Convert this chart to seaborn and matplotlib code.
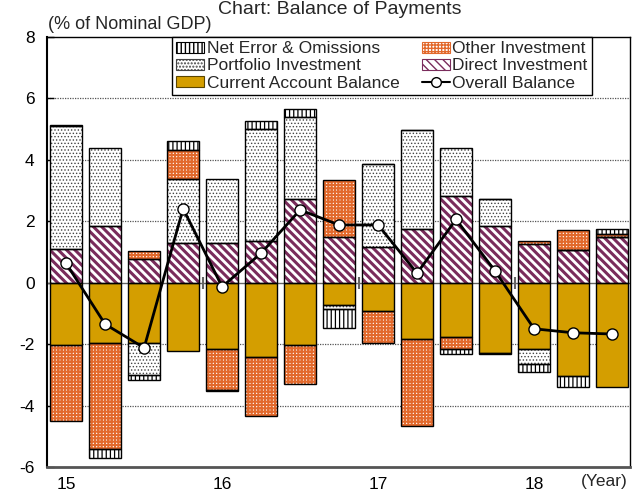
import numpy as np
import pandas as pd
import matplotlib
matplotlib.use("Agg")
import matplotlib.pyplot as plt
import seaborn as sns
from matplotlib.patches import Patch
from matplotlib.lines import Line2D

# Balance of payments, % of nominal GDP, quarterly 2015Q1 - 2018Q3
quarters = ["15Q1", "15Q2", "15Q3", "15Q4", "16Q1", "16Q2", "16Q3", "16Q4",
            "17Q1", "17Q2", "17Q3", "17Q4", "18Q1", "18Q2", "18Q3"]
year_labels = ["15", "16", "17", "18"]

current_account = [-2.03, -1.97, -1.97, -2.21, -2.16, -2.43, -2.04, -0.73,
                   -0.91, -1.83, -1.76, -2.30, -2.17, -3.04, -3.41]
direct_inv = [1.09, 1.85, 0.76, 1.30, 1.30, 1.37, 2.72, 1.48,
              1.15, 1.74, 2.82, 1.85, 1.26, 1.06, 1.50]
portfolio_inv = [4.00, 2.53, -1.03, 2.07, 2.07, 3.62, 2.69, -0.13,
                 2.70, 3.23, 1.56, 0.87, -0.49, 0.0, 0.0]
other_inv = [-2.46, -3.46, 0.28, 0.95, -1.33, -1.90, -1.27, 1.86,
             -1.06, -2.84, -0.41, 0.0, 0.11, 0.66, 0.09]
net_errors = [0.05, -0.29, -0.17, 0.29, -0.03, 0.28, 0.26, -0.63,
              0.0, 0.0, -0.16, -0.03, -0.25, -0.35, 0.16]
overall_balance = [0.63, -1.35, -2.12, 2.41, -0.13, 0.96, 2.37, 1.88,
                   1.88, 0.31, 2.06, 0.38, -1.50, -1.63, -1.67]

GOLD = "#D49E00"
PURPLE = "#7A2C5C"
ORANGE = "#E2692C"

sns.set_theme(style="white")
plt.rcParams["font.family"] = ["Liberation Sans", "DejaVu Sans"]
plt.rcParams["axes.unicode_minus"] = False

fig = plt.figure(figsize=(6.41, 4.91), dpi=100)
ax = fig.add_axes([47 / 641, 1 - 467 / 491, 583 / 641, 430 / 491])

n = len(quarters)
xpos = np.arange(n)
BAR_W = 0.82

# name, values, face colour, hatch, hatch colour, hatch linewidth
components = [
    ("Current Account Balance", current_account, GOLD, None, GOLD, 1.0),
    ("Direct Investment", direct_inv, "white", "\\\\\\\\", PURPLE, 2.2),
    ("Portfolio Investment", portfolio_inv, "white", ".....", "#444444", 0.6),
    ("Other Investment", other_inv, "white", "+++++", ORANGE, 1.5),
    ("Net Error & Omissions", net_errors, "white", "||||", "black", 0.9),
]

pos_bottom = np.zeros(n)
neg_bottom = np.zeros(n)
for name, values, face, hatch, hcol, hlw in components:
    vals = np.array(values)
    bottom = np.where(vals >= 0, pos_bottom, neg_bottom)
    df = pd.DataFrame({"quarter": quarters, "value": vals})
    before = len(ax.patches)
    with plt.rc_context({"hatch.linewidth": hlw}):
        sns.barplot(data=df, x="quarter", y="value", order=quarters,
                    bottom=bottom, color=face, saturation=1, hatch=hatch,
                    edgecolor=hcol, linewidth=0, width=BAR_W,
                    errorbar=None, ax=ax, zorder=2)
    for p in ax.patches[before:]:
        if hasattr(p, "set_hatch_linewidth"):
            p.set_hatch_linewidth(hlw)
    # black outline of each segment
    ax.bar(xpos, vals, width=BAR_W, bottom=bottom, fill=False,
           edgecolor="black", linewidth=1.0, zorder=3)
    pos_bottom += np.where(vals > 0, vals, 0)
    neg_bottom += np.where(vals < 0, vals, 0)

sns.lineplot(x=xpos, y=overall_balance, color="black", linewidth=2,
             marker="o", markersize=8, markerfacecolor="white",
             markeredgecolor="black", markeredgewidth=1, zorder=5, ax=ax)

# grid, zero line and year separators
for yv in [-4, -2, 2, 4, 6]:
    ax.axhline(yv, color="#555555", linestyle=(0, (1, 1)), linewidth=0.9, zorder=0)
ax.axhline(0, color="#666666", linewidth=1.0, zorder=1)
ax.vlines([3.5, 7.5, 11.5], -0.2, 0.2, color="#666666", linewidth=1.5, zorder=1)

ax.set_xlim(-0.49, 14.46)
ax.set_ylim(-6, 8)
ax.set_yticks(range(-6, 9, 2))
ax.set_xticks([0, 4, 8, 12])
ax.set_xticklabels(year_labels)
ax.set_xlabel("")
ax.set_ylabel("")
ax.tick_params(axis="y", direction="in", length=5, width=1, pad=9,
               labelsize=12.5, colors="black", left=True)
ax.tick_params(axis="x", length=0, pad=7, labelsize=12.5, colors="black")
for side in ["left", "top", "right"]:
    ax.spines[side].set_color("black")
    ax.spines[side].set_linewidth(1.0)
ax.spines["left"].set_linewidth(1.5)
ax.spines["bottom"].set_color("#555555")
ax.spines["bottom"].set_linewidth(2.0)

ax.text(13.8, -6.22, "(Year)", ha="center", va="top", fontsize=12.5)
ax.text(0.002, 1.0 + 8 / 430, "(% of Nominal GDP)", transform=ax.transAxes,
        ha="left", va="baseline", fontsize=13)
fig.text(0.53, 1 - 14 / 491, "Chart: Balance of Payments", ha="center",
         va="baseline", fontsize=14)

# legend
handles = []
leg_labels = []
for name, values, face, hatch, hcol, hlw in components[::-1]:
    if name == "Current Account Balance":
        h = Patch(facecolor=GOLD, edgecolor="#5a4500", linewidth=0.8)
    else:
        h = Patch(facecolor=face, edgecolor=hcol, hatch=hatch, linewidth=0.8)
        if hasattr(h, "set_hatch_linewidth"):
            h.set_hatch_linewidth(hlw)
    handles.append(h)
    leg_labels.append(name)
ob = Line2D([], [], color="black", linewidth=1.5, marker="o", markersize=7,
            markerfacecolor="white", markeredgecolor="black")
# column-wise order: NE, PI, CA | OI, DI, OB
order = [0, 2, 4, 1, 3]
handles = [handles[i] for i in order] + [ob]
leg_labels = [leg_labels[i] for i in order] + ["Overall Balance"]
leg = ax.legend(handles, leg_labels, ncol=2, loc="upper left",
                bbox_to_anchor=(125 / 583, 1.0), borderaxespad=0,
                fontsize=12.5, frameon=True, fancybox=False, edgecolor="black",
                framealpha=1, handlelength=1.6, handleheight=0.6,
                handletextpad=0.15, columnspacing=1.3, labelspacing=0.12,
                borderpad=0.25)
leg.get_frame().set_linewidth(1.0)
leg.set_zorder(10)

fig.savefig("out.png", dpi=100)
